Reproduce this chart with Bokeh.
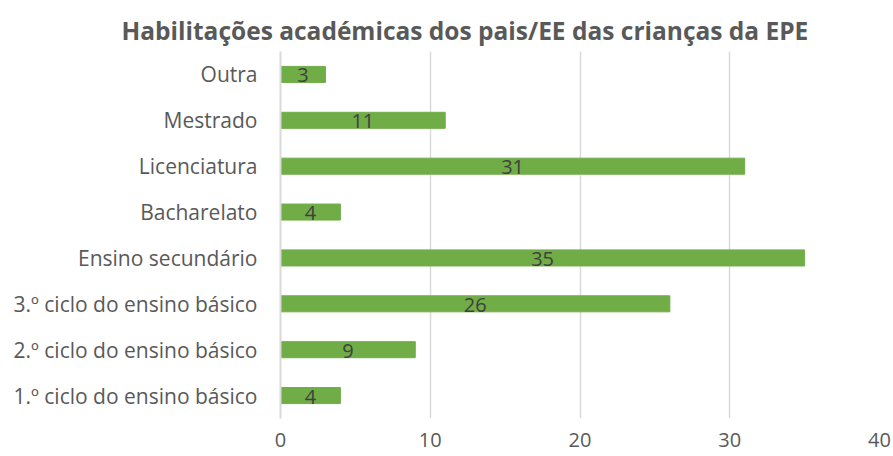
from bokeh.plotting import figure
from bokeh.models import ColumnDataSource, LabelSet, Range1d, FixedTicker
from bokeh.core.properties import value
from bokeh.embed import file_html
from bokeh.resources import INLINE

categories = ["1.º ciclo do ensino básico", "2.º ciclo do ensino básico",
              "3.º ciclo do ensino básico", "Ensino secundário", "Bacharelato",
              "Licenciatura", "Mestrado", "Outra"]
values = [4, 9, 26, 35, 4, 31, 11, 3]
x_ticks = [0, 10, 20, 30, 40]

FONT = "Open Sans"
src = ColumnDataSource(dict(cat=categories, val=values, mid=[v / 2 for v in values],
                            lab=[str(v) for v in values]))

p = figure(width=893, height=456, y_range=categories, x_range=Range1d(0, 40),
           output_backend="svg", toolbar_location=None,
           title="Habilitações académicas dos pais/EE das crianças da EPE",
           min_border_left=280, min_border_right=14, min_border_top=51, min_border_bottom=38)
p.hbar(y="cat", right="val", left=0, height=0.35, source=src, color="#70AD47")
p.add_layout(LabelSet(x="mid", y="cat", text="lab", source=src, text_align="center",
                      text_baseline="middle", text_color="#404040", text_font=value(FONT),
                      text_font_size="20px", y_offset=-1))

p.title.text_font = FONT
p.title.text_font_size = "24.5px"
p.title.text_color = "#595959"
p.title.align = "left"
p.title.offset = -159

p.outline_line_color = None
p.ygrid.grid_line_color = None
p.xgrid.grid_line_color = "#D9D9D9"
p.xgrid.grid_line_width = 1.5
p.xaxis.ticker = FixedTicker(ticks=x_ticks)
p.xaxis.axis_line_color = None
p.xaxis.major_tick_line_color = None
p.xaxis.minor_tick_line_color = None
p.xaxis.major_label_text_font = FONT
p.xaxis.major_label_text_font_size = "20px"
p.xaxis.major_label_text_color = "#595959"
p.xaxis.major_label_standoff = 8
p.yaxis.axis_line_color = "#D9D9D9"
p.yaxis.axis_line_width = 2
p.yaxis.major_tick_line_color = None
p.yaxis.minor_tick_line_color = None
p.yaxis.major_label_text_font = FONT
p.yaxis.major_label_text_font_size = "21px"
p.yaxis.major_label_text_color = "#595959"
p.yaxis.major_label_standoff = 17

open("out.html", "w").write(file_html(p, INLINE))
